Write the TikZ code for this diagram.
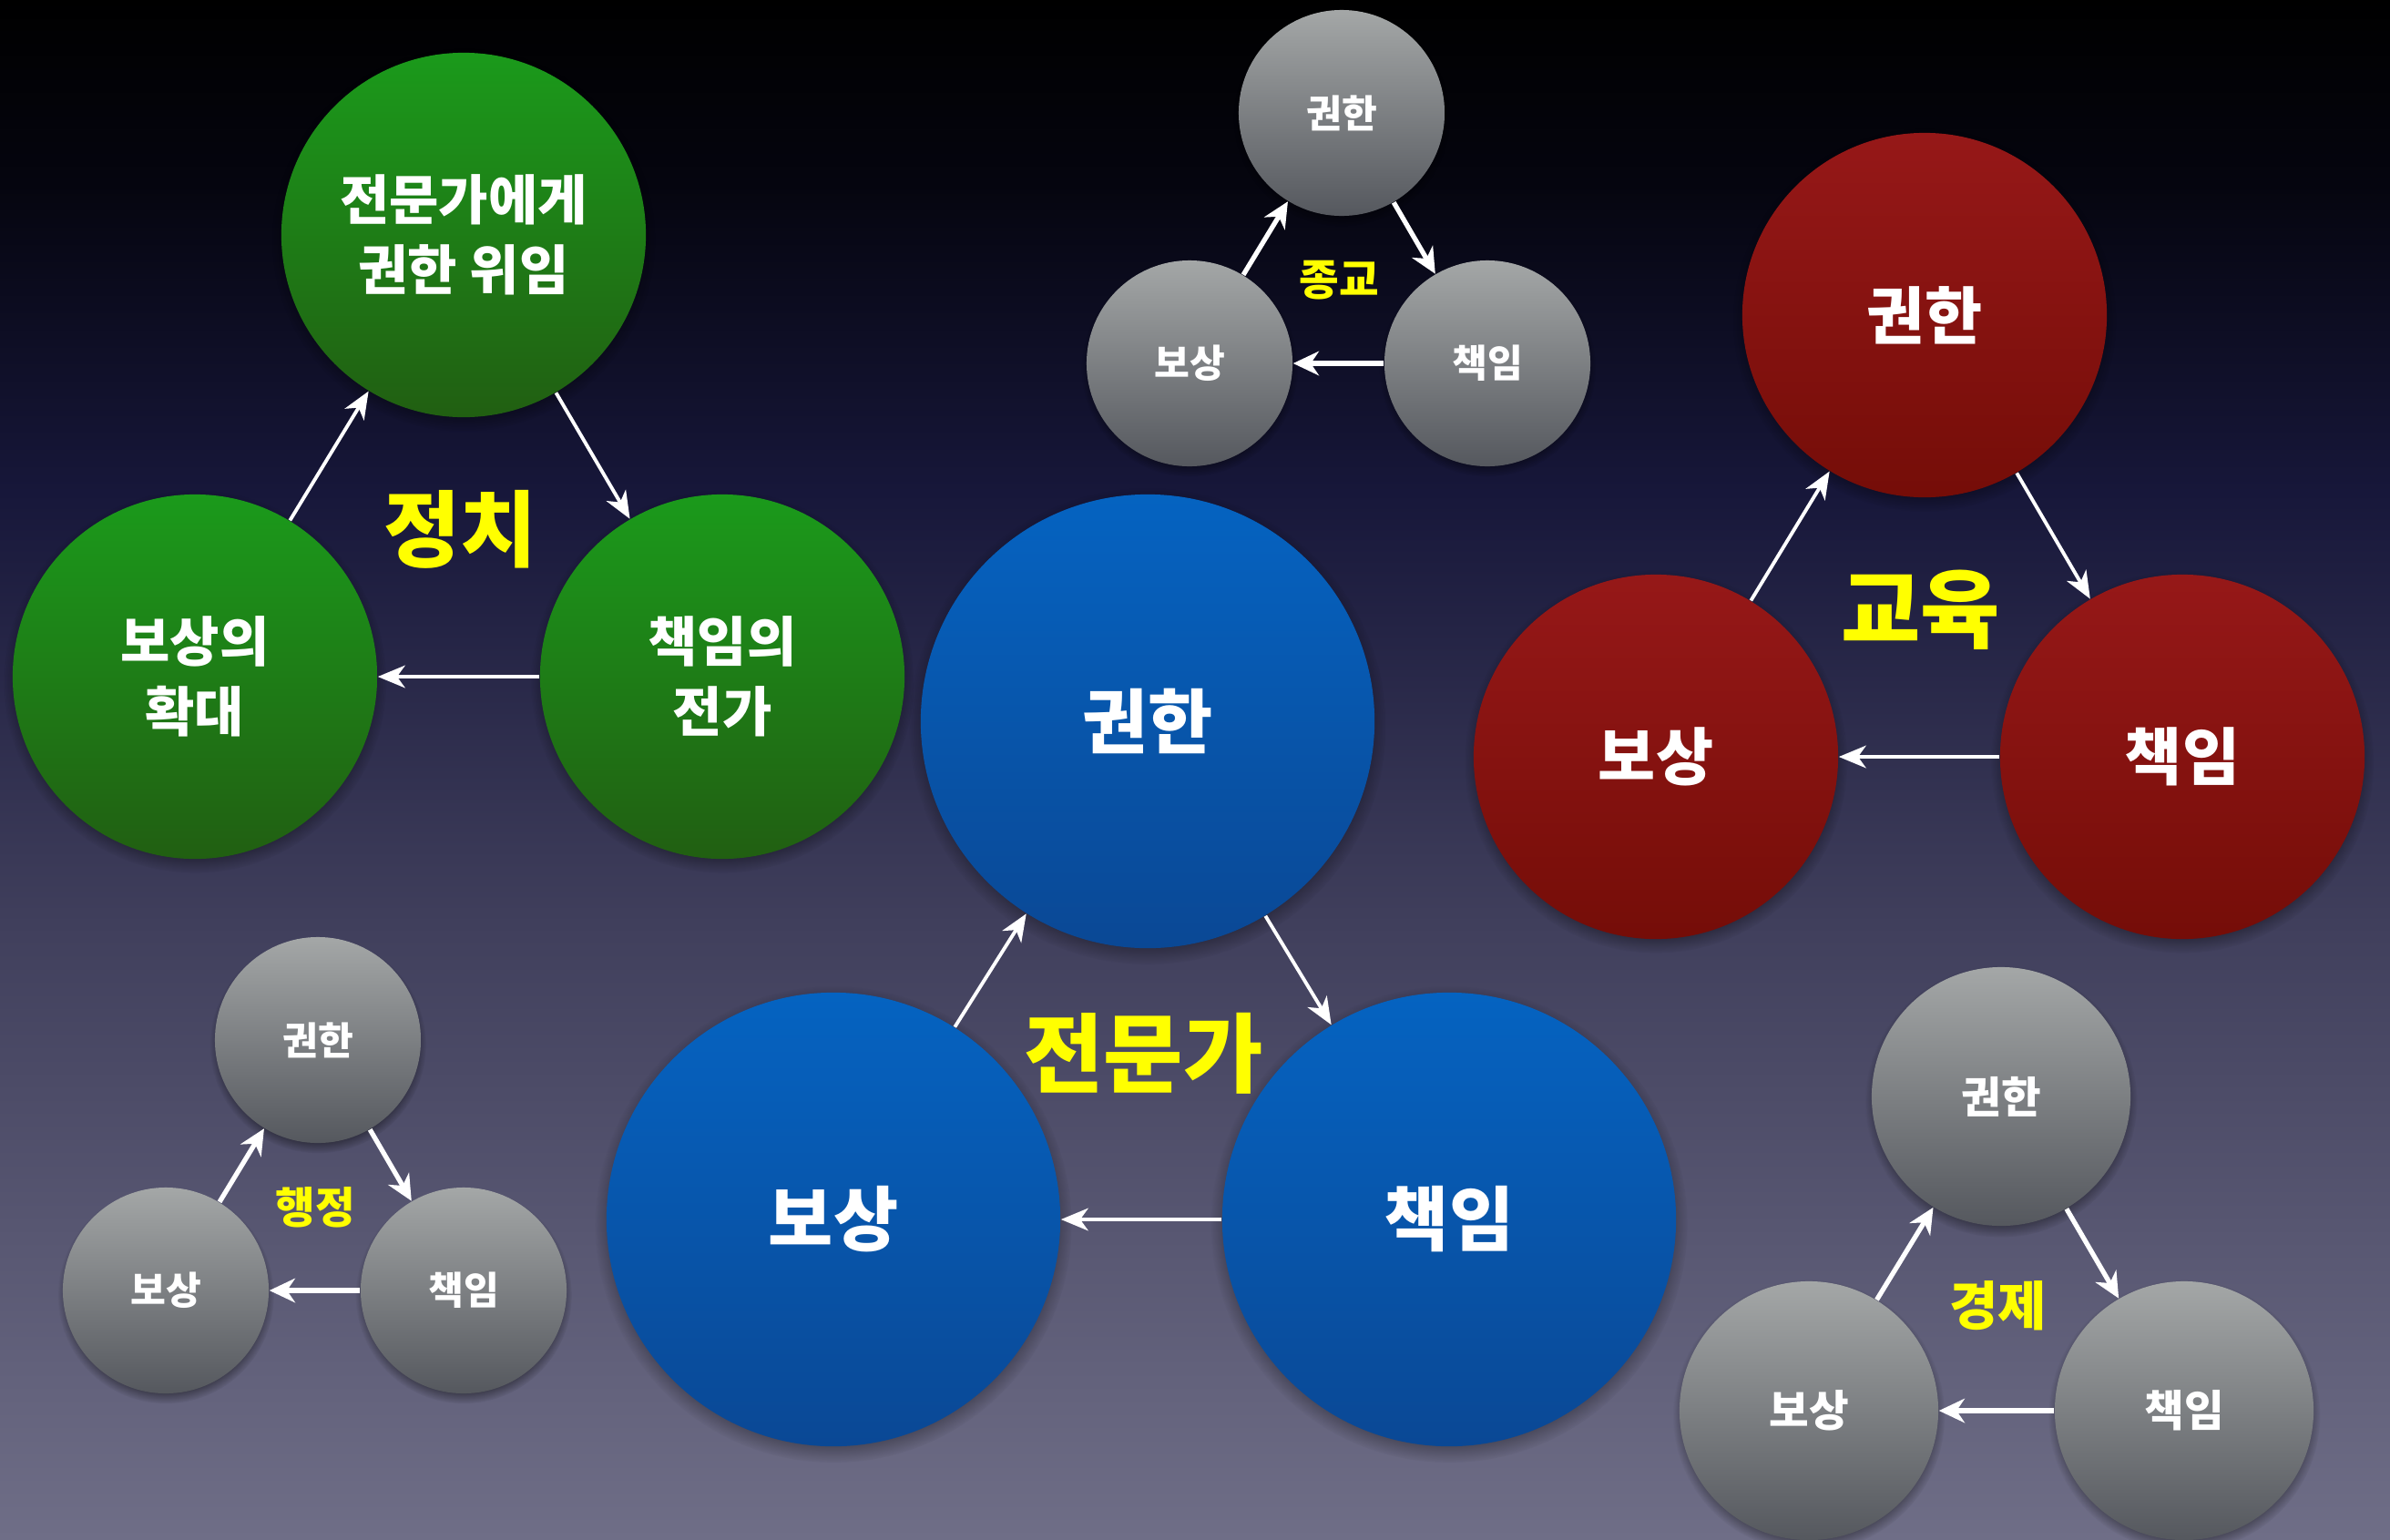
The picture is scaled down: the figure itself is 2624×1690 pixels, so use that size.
\documentclass[tikz,border=0pt]{standalone}
\usepackage{fontspec}
\setmainfont{Noto Sans CJK KR}
\usetikzlibrary{arrows.meta,shadows,calc}
\definecolor{bgA}{HTML}{6F6E87}
\definecolor{bgB}{HTML}{403F5C}
\definecolor{bgC}{HTML}{17173A}
\definecolor{bgD}{HTML}{05050F}
\definecolor{bgE}{HTML}{000000}
\pgfdeclareverticalshading{bgshade}{100bp}{color(0bp)=(bgA); color(25bp)=(bgA); color(45bp)=(bgB); color(59bp)=(bgC); color(69bp)=(bgD); color(75bp)=(bgE); color(100bp)=(bgE)}
\definecolor{grT}{HTML}{1B9A1B}
\definecolor{grB}{HTML}{215F12}
\definecolor{rdT}{HTML}{961818}
\definecolor{rdB}{HTML}{750D08}
\definecolor{blT}{HTML}{0563C1}
\definecolor{blB}{HTML}{0A4895}
\definecolor{gyT}{HTML}{A4A7A7}
\definecolor{gyB}{HTML}{55585E}
\definecolor{lbl}{HTML}{FFFF00}
\tikzset{
  ball/.style={circle, inner sep=0pt, text=white, align=center,
    circular drop shadow={shadow xshift=0pt, shadow yshift=-1.5pt, shadow scale=1.05, fill=black, opacity=.55}},
  gball/.style={ball, top color=grT, bottom color=grB, minimum size=4cm,
    font=\bfseries\fontsize{16.8}{22}\selectfont},
  rball/.style={ball, top color=rdT, bottom color=rdB, minimum size=4cm,
    font=\bfseries\fontsize{19.5}{24}\selectfont},
  bball/.style={ball, top color=blT, bottom color=blB, minimum size=4.98cm,
    font=\bfseries\fontsize{22}{26}\selectfont},
  sball/.style={ball, top color=gyT, bottom color=gyB, minimum size=2.26cm,
    font=\bfseries\fontsize{12}{14}\selectfont},
  mball/.style={ball, top color=gyT, bottom color=gyB, minimum size=2.84cm,
    font=\bfseries\fontsize{13.5}{16}\selectfont},
  grouplabel/.style={text=lbl, inner sep=0pt},
  arr/.style={draw=white, line width=1.1pt, -{Stealth[length=8.5pt,width=7pt,inset=2.5pt]}},
  sarr/.style={draw=white, line width=1.5pt, -{Stealth[length=8pt,width=7.5pt,inset=2.5pt]}},
}
\begin{document}
\begin{tikzpicture}[x=0.01cm, y=-0.01cm]
\useasboundingbox (0,0) rectangle (2624,1690);
\fill[shading=bgshade] (0,0) rectangle (2624,1690);

% green: 정치
\node[gball] (gT) at (509,258) {전문가에게\\권한 위임};
\node[gball] (gL) at (214,743) {보상의\\확대};
\node[gball] (gR) at (793,743) {책임의\\전가};
\draw[arr] (gL) -- (gT);
\draw[arr] (gT) -- (gR);
\draw[arr] (gR) -- (gL);
\node[grouplabel, font=\bfseries\fontsize{26}{30}\selectfont] (gLab) at (barycentric cs:gT=1,gL=1,gR=1) {정치};

% gray top: 종교
\node[sball] (aT) at (1473,124) {권한};
\node[sball] (aL) at (1306,399) {보상};
\node[sball] (aR) at (1633,399) {책임};
\draw[sarr] (aL) -- (aT);
\draw[sarr] (aT) -- (aR);
\draw[sarr] (aR) -- (aL);
\node[grouplabel, font=\bfseries\fontsize{13.5}{16}\selectfont] (aLab) at (barycentric cs:aT=1,aL=1,aR=1) {종교};

% red: 교육
\node[rball] (rT) at (2113,346) {권한};
\node[rball] (rL) at (1818,831) {보상};
\node[rball] (rR) at (2396,831) {책임};
\draw[arr] (rL) -- (rT);
\draw[arr] (rT) -- (rR);
\draw[arr] (rR) -- (rL);
\node[grouplabel, font=\bfseries\fontsize{27}{30}\selectfont] (rLab) at (barycentric cs:rT=1,rL=1,rR=1) {교육};

% blue: 전문가
\node[bball] (bT) at (1260,792) {권한};
\node[bball] (bL) at (915,1339) {보상};
\node[bball] (bR) at (1591,1339) {책임};
\draw[arr] (bL) -- (bT);
\draw[arr] (bT) -- (bR);
\draw[arr] (bR) -- (bL);
\node[grouplabel, font=\bfseries\fontsize{27}{30}\selectfont] (bLab) at (barycentric cs:bT=1,bL=1,bR=1) {전문가};

% gray bottom-left: 행정
\node[sball] (hT) at (349,1142) {권한};
\node[sball] (hL) at (182,1417) {보상};
\node[sball] (hR) at (509,1417) {책임};
\draw[sarr] (hL) -- (hT);
\draw[sarr] (hT) -- (hR);
\draw[sarr] (hR) -- (hL);
\node[grouplabel, font=\bfseries\fontsize{13.5}{16}\selectfont] (hLab) at (barycentric cs:hT=1,hL=1,hR=1) {행정};

% gray bottom-right: 경제
\node[mball] (eT) at (2197,1204) {권한};
\node[mball] (eL) at (1986,1549) {보상};
\node[mball] (eR) at (2398,1549) {책임};
\draw[sarr] (eL) -- (eT);
\draw[sarr] (eT) -- (eR);
\draw[sarr] (eR) -- (eL);
\node[grouplabel, font=\bfseries\fontsize{16.5}{20}\selectfont] (eLab) at (barycentric cs:eT=1,eL=1,eR=1) {경제};
\end{tikzpicture}
\end{document}
